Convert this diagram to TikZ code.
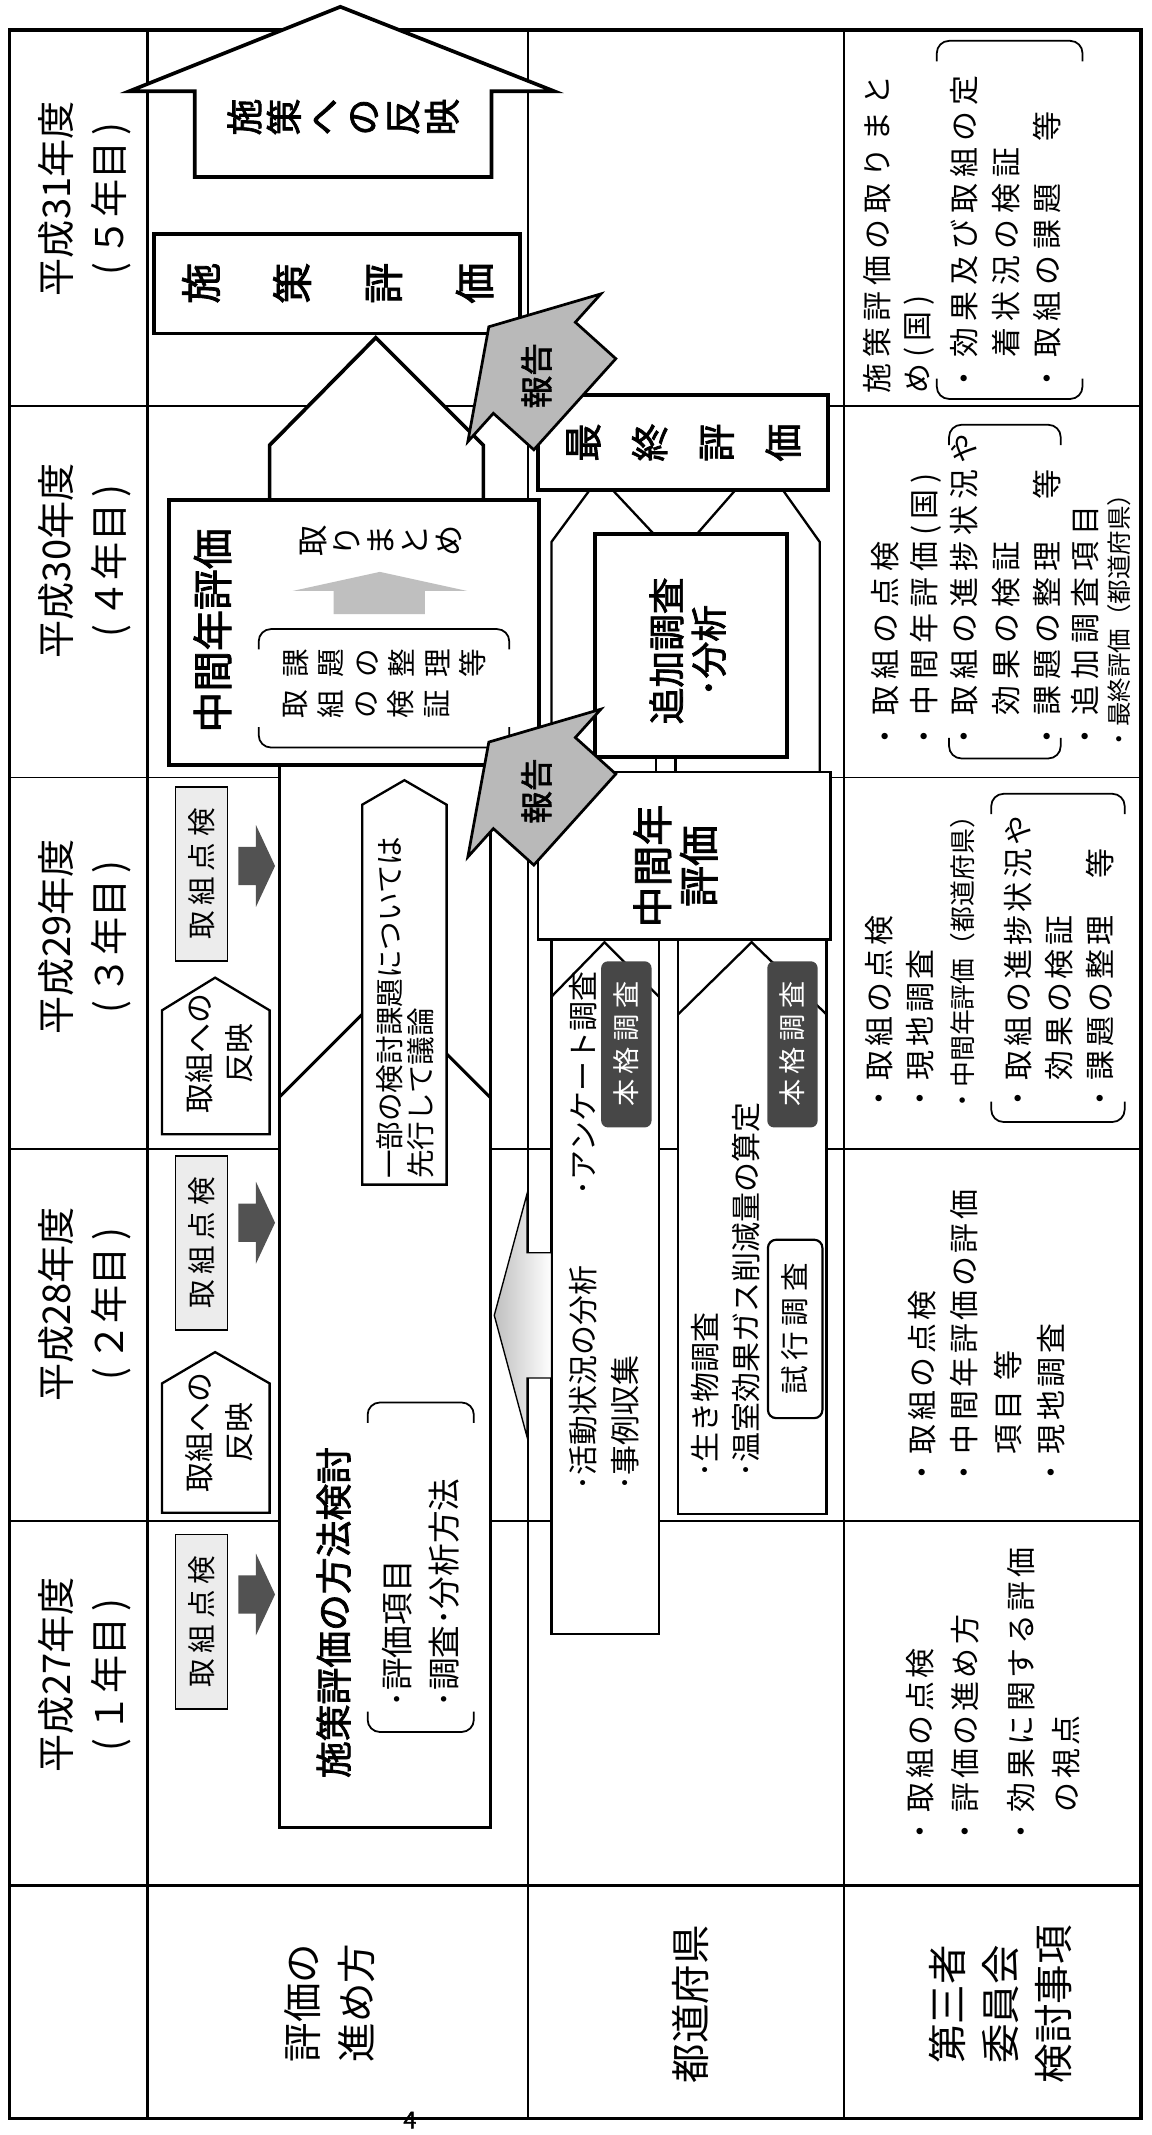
\documentclass[tikz,border=0pt]{standalone}
\usepackage{fontspec}
\newfontfamily\jp{Noto Sans CJK JP}[AutoFakeBold=2]
\newfontfamily\jpt{Noto Sans CJK JP}[LetterSpace=20,AutoFakeBold=2]
\newfontfamily\jpu{Noto Sans CJK JP}[LetterSpace=12,AutoFakeBold=2]
\newcommand{\jsz}[2]{\fontsize{#1}{#2}\selectfont}
% bracket pair round a text block: u from, u to, v top, v bottom
\newcommand{\brk}[4]{%
  \draw[line width=1.3pt,rounded corners=9pt] (#1,#3+15) -- (#1,#3) -- (#2,#3) -- (#2,#3+15);
  \draw[line width=1.3pt,rounded corners=9pt] (#1,#4-15) -- (#1,#4) -- (#2,#4) -- (#2,#4-15);}
% dark arrow from a check box into the big box
\newcommand{\darr}[1]{%
  \fill[black!68] (175,#1-14) -- (188,#1-14) -- (188,#1-30) -- (202,#1)
    -- (188,#1+30) -- (188,#1+14) -- (175,#1+14) -- cycle;}
\tikzset{
  gridline/.style={line width=1.2pt},
  frameline/.style={line width=2.6pt},
  boxline/.style={line width=1.7pt},
  heavyline/.style={line width=2.7pt},
  vt/.style={rotate=90,inner sep=0pt},
  head/.style={vt,align=center,font=\jp\jsz{28}{39}},
  item/.style={vt,anchor=west,font=\jpt\jsz{22}{22}},
  itemn/.style={vt,anchor=west,font=\jpu\jsz{22}{22}},
  smallitem/.style={vt,anchor=west,font=\jp\jsz{18}{18}},
  pref/.style={vt,anchor=west,font=\jp\jsz{22}{22}},
  chk/.style={vt,draw,line width=1.2pt,fill=gray!15,minimum width=128pt,
    minimum height=38pt,font=\jpt\jsz{21}{21}},
  hon/.style={vt,fill=black!72,rounded corners=5pt,minimum width=122pt,
    minimum height=37pt,text=white,font=\jpt\jsz{20}{20}},
}
\begin{document}
\begin{tikzpicture}[x=1pt,y=-1pt]
\useasboundingbox (0,0) rectangle (846,1568);
% table
\draw[frameline] (7,22) rectangle (838,1556);
\draw[line width=2.2pt] (108,22) -- (108,1556);
\draw[line width=1.6pt] (388,22) -- (388,1556);
\draw[gridline] (620,22) -- (620,1556);
\foreach \v in {298,571,844,1117} \draw[gridline] (7,\v) -- (838,\v);
\draw[line width=2.2pt] (7,1385) -- (838,1385);
% years and row labels
\foreach \vv/\yr/\nn [count=\i] in {146/31/５,412/30/４,688/29/３,958/28/２,1230/27/１}
  \node[head] (year\i) at (62,\vv) {平成\yr 年度\\(\,\nn 年目\,)};
\node[head,font=\jp\jsz{29}{40}] (lab1) at (242,1471) {評価の\\進め方};
\node[head,font=\jp\jsz{29}{40}] (lab2) at (507,1472) {都道府県};
\node[head,font=\jp\jsz{29}{39}] (lab3) at (735,1472) {第三者\\委員会\\検討事項};

% row 1: evaluation
\draw[heavyline,fill=white] (143,130) -- (143,67) -- (95,67) -- (250,5) -- (407,67)
  -- (361,67) -- (361,130) -- cycle;
\node[vt,align=center,font=\jp\bfseries\jsz{27}{29}] (refl) at (252,86) {施\\策\\へ\\の\\反\\映};
\draw[heavyline,fill=white] (113,172) rectangle (382,245);
\node[vt,align=center,font=\jp\bfseries\jsz{30}{67}] (poleval) at (248,208) {施\\策\\評\\価};
\draw[heavyline,fill=white] (198,369) -- (198,327) -- (276,248) -- (355,327) -- (355,369);
\draw[heavyline,fill=white] (124,367) rectangle (396,562);
\node[vt,font=\jp\bfseries\jsz{30}{30}] (midnat) at (156,463) {中間年評価};
\node[vt,align=center,font=\jp\jsz{23}{25}] (summ) at (280,397) {取\\り\\ま\\と\\め};
\fill[gray!50] (279,420) -- (343,434) -- (312,434) -- (312,451) -- (245,451)
  -- (245,434) -- (215,434) -- cycle;
\brk{190}{374}{462}{549}
\node[vt,anchor=north,align=center,font=\jp\jsz{21}{26}] (task) at (208,487) {課\\題\\の\\整\\理\\等};
\node[vt,anchor=north,align=center,font=\jp\jsz{21}{26}] (verif) at (208,517) {取\\組\\の\\検\\証};

% big box of the method study
\draw[line width=2.2pt,fill=white] (205,562) rectangle (360,1342);
\draw[line width=2.2pt] (205,806) -- (266,745);
\draw[line width=2.2pt] (328,774) -- (360,806);
\draw[boxline,fill=white] (266,870) -- (266,591) -- (297,573) -- (328,591) -- (328,870) -- cycle;
\node[vt,anchor=west,font=\jp\jsz{21}{21}] (part1) at (286,866) {一部の検討課題については};
\node[vt,anchor=west,font=\jp\jsz{21}{21}] (part2) at (309,866) {先行して議論};
\node[vt,anchor=west,font=\jp\bfseries\jsz{27}{27}] (method) at (245,1306) {施策評価の方法検討};
\brk{270}{348}{1030}{1272}
\node[vt,anchor=west,font=\jp\jsz{24}{24}] (meth1) at (292,1254) {･評価項目};
\node[vt,anchor=west,font=\jp\jsz{24}{24}] (meth2) at (326,1254) {･調査･分析方法};

% yearly checks
\foreach \vc/\va [count=\i] in {642/636,913/898,1191/1171} {
  \node[chk] (chk\i) at (148,\vc) {取組点検};
  \darr{\va}
}
\foreach \vb/\vs/\vt/\vx [count=\i] in {833/742/718/774,1111/1016/993/1052} {
  \draw[boxline,fill=white] (119,\vb) -- (119,\vs) -- (158,\vt) -- (198,\vs) -- (198,\vb) -- cycle;
  \node[vt,align=center,font=\jp\jsz{22}{30}] (fb\i) at (161,\vx) {取組への\\反映};
}

% row 2: prefectures
\draw[boxline,fill=white] (405,567) -- (405,398) -- (433,360) -- (575,360) -- (602,398) -- (602,567);
\draw[boxline] (450,360) -- (480,392);
\draw[boxline] (540,360) -- (512,392);
\draw[heavyline,fill=white] (395,290) rectangle (608,360);
\node[vt,align=center,font=\jp\bfseries\jsz{28}{49}] (final) at (502,325) {最\\終\\評\\価};
\draw[heavyline,fill=white] (437,392) rectangle (578,556);
\node[vt,align=center,font=\jp\bfseries\jsz{27}{31}] (extra) at (505,478) {追加調査\\･分析};
\draw[boxline] (482,556) -- (482,567);
\draw[boxline] (496,556) -- (496,567);
\draw[boxline,fill=white] (395,567) rectangle (610,690);
\node[vt,align=center,font=\jp\bfseries\jsz{30}{34}] (midpref) at (496,636) {中間年\\評価};
\draw[boxline,fill=white] (405,690) rectangle (484,1200);
\draw[boxline] (405,732) -- (444,692) -- (484,732);
\draw[boxline,fill=white] (498,690) rectangle (607,1112);
\draw[boxline] (498,745) -- (552,692) -- (607,745);
\node[hon] (hon1) at (460,767) {本格調査};
\node[hon] (hon2) at (582,767) {本格調査};
\node[pref] (act) at (428,1095) {･活動状況の分析};
\node[pref] (ques) at (428,878) {･アンケート調査};
\node[pref] (case) at (459,1095) {･事例収集};
\node[pref] (bio) at (518,1085) {･生き物調査};
\node[pref] (ghg) at (548,1085) {･温室効果ガス削減量の算定};
\node[vt,draw,fill=white,line width=1.6pt,rounded corners=6pt,minimum width=131pt,
  minimum height=40pt,font=\jpt\jsz{21}{21}] (trial) at (584,976) {試行調査};
\shadedraw[left color=gray!50,right color=white,line width=1pt] (405,920) -- (387,920)
  -- (387,877) -- (363,966) -- (387,1055) -- (387,1012) -- (405,1012) -- cycle;

% report arrows
\foreach \tv [count=\i] in {240,545} {
  \begin{scope}[shift={(359,\tv)},rotate=-42]
    \draw[line width=2pt,fill=gray!55] (0,0) -- (45,73) -- (45,45) -- (85,45)
      -- (85,-45) -- (45,-45) -- (45,-73) -- cycle;
  \end{scope}
  \node[vt,font=\jp\bfseries\jsz{24}{24}] (rep\i) at (394,\tv+36) {報告};
}

% row 3: committee
\foreach \uu/\tx [count=\i] in {644/施策評価の取りまと,675/め(国),708/・効果及び取組の定,739/　着状況の検証,769/・取組の課題　等}
  \node[item] (c31-\i) at (\uu,289) {\tx};
\brk{688}{795}{30}{293}
\foreach \uu/\tx [count=\i] in {650/・取組の点検,680/・中間年評価(国),708/・取組の進捗状況や,739/　効果の検証,769/・課題の整理　等,797/・追加調査項目}
  \node[item] (c30-\i) at (\uu,552) {\tx};
\node[smallitem] (c30-7) at (822,552) {・最終評価（都道府県）};
\brk{697}{779}{312}{557}
\foreach \uu/\tx [count=\i] in {646/・取組の点検,676/・現地調査,748/・取組の進捗状況や,778/　効果の検証,808/・課題の整理　等}
  \node[itemn] (c29-\i) at (\uu,818) {\tx};
\node[smallitem,font=\jp\jsz{19}{19}] (c29-6) at (707,818) {・中間年評価（都道府県）};
\brk{728}{826}{583}{824}
\foreach \uu/\tx [count=\i] in {677/・取組の点検,708/・中間年評価の評価,740/　項目 等,772/・現地調査}
  \node[itemn] (c28-\i) at (\uu,1093) {\tx};
\foreach \uu/\tx [count=\i] in {676/・取組の点検,709/・評価の進め方,750/・効果に関する評価,783/　の視点}
  \node[itemn] (c27-\i) at (\uu,1356) {\tx};

\node[font=\jp\bfseries\jsz{17}{17}] (pageno) at (301,1557) {4};
\end{tikzpicture}
\end{document}
